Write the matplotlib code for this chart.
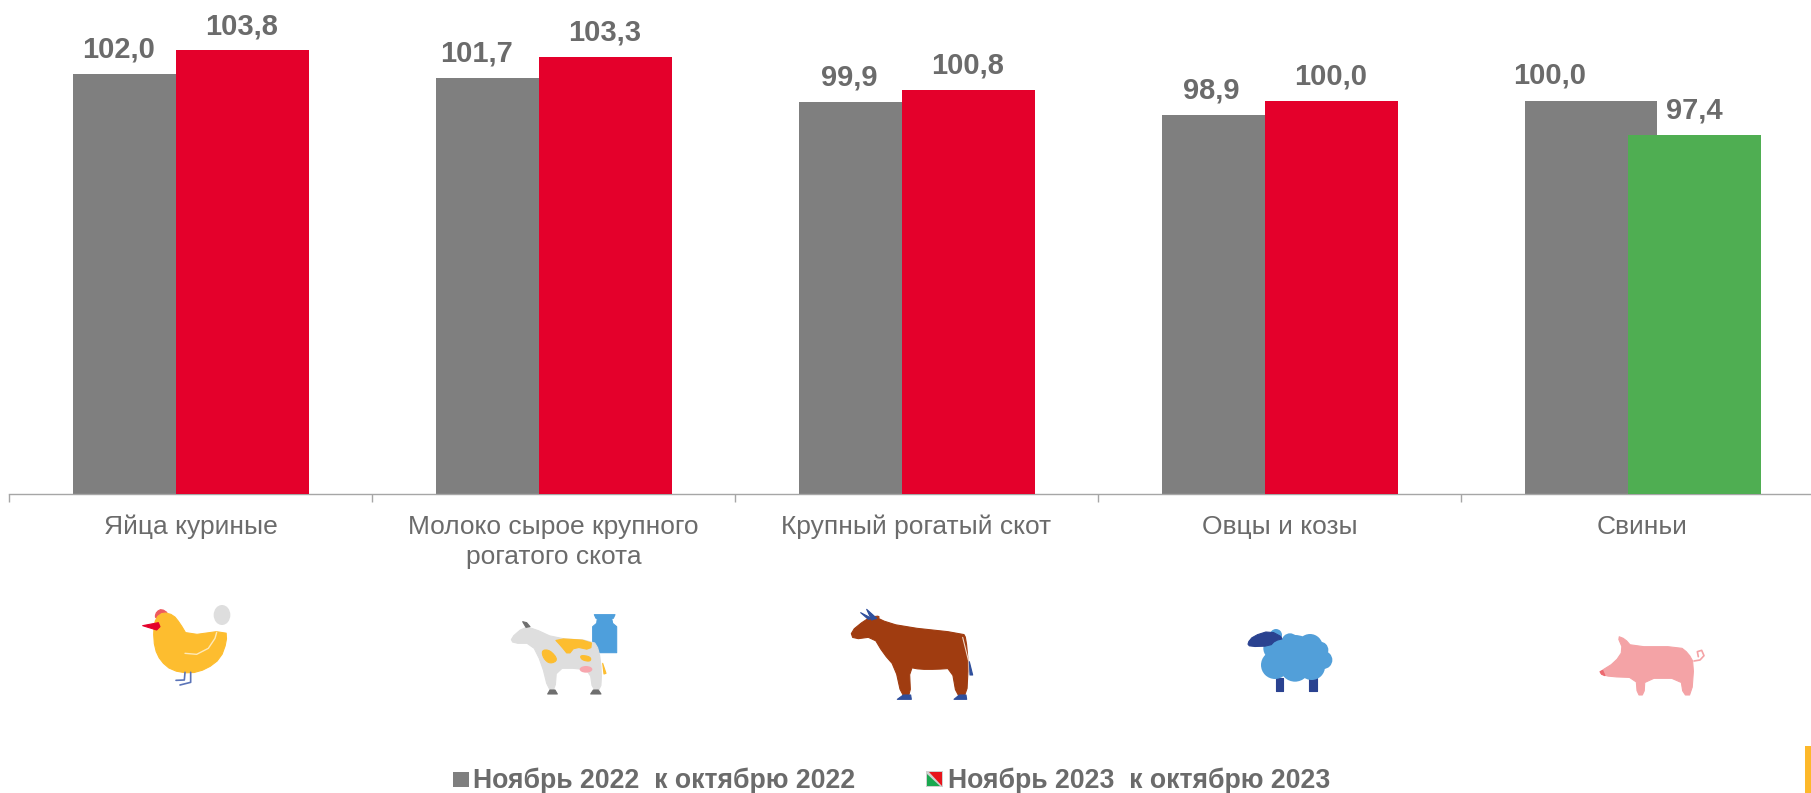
#!/usr/bin/env python3
import matplotlib
matplotlib.use('Agg')
import matplotlib.pyplot as plt
from matplotlib.patches import Polygon, Ellipse, Circle, Rectangle
import numpy as np

categories = ['Яйца куриные', 'Молоко сырое крупного\nрогатого скота', 'Крупный рогатый скот', 'Овцы и козы', 'Свиньи']
values_2022 = [102.0, 101.7, 99.9, 98.9, 100.0]
values_2023 = [103.8, 103.3, 100.8, 100.0, 97.4]
labels_2022 = ['102,0', '101,7', '99,9', '98,9', '100,0']
labels_2023 = ['103,8', '103,3', '100,8', '100,0', '97,4']
legend_2022 = 'Ноябрь 2022  к октябрю 2022'
legend_2023 = 'Ноябрь 2023  к октябрю 2023'

W, H = 1811, 793
GREY, RED, GREEN = '#7f7f7f', '#e4002b', '#4fae52'
TXT = '#6b6b6b'
plt.rcParams['font.family'] = ['Liberation Sans', 'DejaVu Sans']

fig = plt.figure(figsize=(W / 100, H / 100), dpi=100)
y0 = 494
ax = fig.add_axes([9 / W, 1 - y0 / H, (W - 9) / W, y0 / H])
per_cat = 363.0

x = np.arange(len(categories))
bw = 133 / per_cat
off = 51.5 / per_cat
ax.bar(x - off, values_2022, bw, color=GREY, zorder=2)
colors_2023 = [RED if v >= 100 else GREEN for v in values_2023]
ax.bar(x + off, values_2023, bw, color=colors_2023, zorder=3)

# value labels sit a bit left of the grey bars, pixels
shift_2022 = [-20, -25, -16, -17, -41]
shift_2023 = [0, 0, 0, 0, 0]
for i in x:
    ax.annotate(labels_2022[i], (i - off, values_2022[i]), xytext=(shift_2022[i] * 0.72, 12.2),
                textcoords='offset points', ha='center', va='baseline',
                fontsize=21, fontweight='bold', color=TXT)
    ax.annotate(labels_2023[i], (i + off, values_2023[i]), xytext=(shift_2023[i] * 0.72, 11.6),
                textcoords='offset points', ha='center', va='baseline',
                fontsize=21, fontweight='bold', color=TXT)

for s in ['top', 'left', 'right']:
    ax.spines[s].set_visible(False)
ax.spines['bottom'].set_color('#a6a6a6')
ax.spines['bottom'].set_linewidth(1.0)
ax.set_yticks([])
ax.set_xticks(np.arange(-0.5, 5, 1))
ax.set_xticklabels([])
ax.tick_params(axis='x', which='major', length=5.8, width=1.0, color='#a6a6a6')
ax.set_xticks(x, minor=True)
ax.set_xticklabels(categories, minor=True, fontsize=19, color=TXT, linespacing=1.3)
ax.tick_params(axis='x', which='minor', length=0, pad=15)
# set_xticks widens the view, so the limits go last
ax.set_xlim(-0.5, (W - 9) / per_cat - 0.5)
ax.set_ylim(70.2, 70.2 + y0 / 13.2)

# overlay in pixel coordinates for the icons and legend
ov = fig.add_axes([0, 0, 1, 1], zorder=5)
ov.set_xlim(0, W)
ov.set_ylim(H, 0)
ov.axis('off')


def chaikin(pts, n):
    pts = np.array(pts, float)
    for _ in range(n):
        nxt = np.roll(pts, -1, axis=0)
        pts = np.stack([0.75 * pts + 0.25 * nxt, 0.25 * pts + 0.75 * nxt], axis=1).reshape(-1, 2)
    return pts


def poly(ox, oy, pts, color, z=1, smooth=2):
    xy = chaikin(pts, smooth)
    xy = np.column_stack([ox + xy[:, 0] / 3, oy + xy[:, 1] / 3])
    ov.add_patch(Polygon(xy, closed=True, fc=color, ec=color, lw=0.8, joinstyle='round', zorder=z))


def line(ox, oy, pts, color, lw=1.2, z=2):
    ov.plot([ox + a / 3 for a, b in pts], [oy + b / 3 for a, b in pts], color=color, lw=lw,
            solid_capstyle='round', solid_joinstyle='round', zorder=z)


# chicken
ox, oy = 130, 595
poly(ox, oy, [(75, 65), (80, 50), (95, 42), (115, 55), (100, 60), (80, 70)], '#ee5a5f', smooth=1)
poly(ox, oy, [(100, 52), (130, 60), (150, 85), (172, 122), (288, 106), (290, 140), (272, 190), (230, 222),
              (180, 236), (125, 226), (92, 198), (74, 160), (70, 105), (78, 68)], '#fdbd2f', 2, smooth=1)
poly(ox, oy, [(38, 92), (85, 83), (90, 95), (80, 105)], '#e4002b', 3, smooth=0)
ov.add_patch(Ellipse((ox + 276 / 3, oy + 60 / 3), 50 / 3, 60 / 3, fc='#dedede', ec='none'))
line(ox, oy, [(165, 175), (200, 178), (235, 160), (255, 130), (260, 112)], '#fde9b8', 1.0, 3)
line(ox, oy, [(165, 232), (163, 255), (138, 256)], '#5b74b8')
line(ox, oy, [(182, 232), (182, 262), (150, 270)], '#5b74b8')

# cow with milk can
ox, oy = 500, 600
poly(ox, oy, [(290, 70), (278, 80), (278, 158), (350, 158), (350, 80), (338, 70), (335, 55), (292, 55)], '#4e9fdc', smooth=0)
poly(ox, oy, [(283, 44), (345, 44), (340, 55), (288, 55)], '#4e9fdc', smooth=0)
poly(ox, oy, [(32, 115), (70, 82), (100, 85), (165, 115), (280, 122), (297, 150), (305, 215), (302, 270),
              (278, 270), (270, 215), (235, 205), (170, 205), (165, 270), (145, 270), (125, 190),
              (95, 130), (40, 130)], '#dedede', 2, smooth=1)
poly(ox, oy, [(68, 65), (80, 68), (90, 80), (78, 82)], '#6e6e6e', 3, smooth=0)
poly(ox, oy, [(143, 282), (150, 270), (165, 270), (172, 282)], '#6e6e6e', 3, smooth=0)
poly(ox, oy, [(272, 282), (280, 270), (295, 270), (303, 282)], '#6e6e6e', 3, smooth=0)
poly(ox, oy, [(162, 115), (275, 122), (272, 150), (225, 140), (205, 165), (185, 140)], '#fdbd2f', 3, smooth=1)
poly(ox, oy, [(125, 150), (150, 150), (175, 180), (150, 192), (130, 175)], '#fdbd2f', 3)
poly(ox, oy, [(240, 165), (272, 170), (272, 185), (245, 180)], '#fdbd2f', 3)
poly(ox, oy, [(308, 190), (318, 220), (312, 222)], '#fdbd2f', 3, smooth=0)
ov.add_patch(Ellipse((ox + 258 / 3, oy + 208 / 3), 38 / 3, 20 / 3, fc='#f7a6ae', ec='none', zorder=3))

# bull
ox, oy = 840, 600
poly(ox, oy, [(32, 95), (75, 60), (100, 50), (118, 48), (115, 58), (185, 80), (370, 100), (378, 115), (385, 190),
              (380, 290), (350, 290), (335, 205), (290, 208), (240, 208), (208, 202), (212, 290), (185, 290),
              (165, 200), (130, 160), (100, 110), (40, 118)], '#a03c10', smooth=1)
poly(ox, oy, [(62, 38), (95, 55), (85, 58)], '#2f4f9c', 2, smooth=0)
poly(ox, oy, [(80, 28), (110, 55), (95, 60)], '#2f4f9c', 2, smooth=0)
poly(ox, oy, [(172, 298), (190, 285), (212, 285), (214, 298)], '#2f4f9c', 2, smooth=0)
poly(ox, oy, [(342, 298), (358, 285), (378, 285), (380, 298)], '#2f4f9c', 2, smooth=0)
poly(ox, oy, [(388, 185), (398, 225), (390, 225)], '#2f4f9c', 2, smooth=0)
line(ox, oy, [(368, 112), (385, 180)], '#f0d8c8', 0.8, 3)

# sheep
ox, oy = 1235, 620
for cx, cy, r in [(123, 45, 18), (165, 65, 25), (225, 80, 38), (255, 90, 25), (265, 120, 27), (120, 135, 42),
                  (180, 140, 45), (230, 140, 40), (120, 85, 35), (180, 110, 65)]:
    ov.add_patch(Circle((ox + cx / 3, oy + cy / 3), r / 3, fc='#529fd9', ec='none', zorder=2))
poly(ox, oy, [(123, 175), (145, 175), (145, 212), (123, 212)], '#2a4290', smooth=0)
poly(ox, oy, [(223, 175), (245, 175), (245, 212), (223, 212)], '#2a4290', smooth=0)
poly(ox, oy, [(37, 70), (55, 48), (105, 32), (148, 55), (120, 62), (105, 78), (45, 80)], '#2a4290', 3, smooth=1)

# pig
ox, oy = 1590, 625
poly(ox, oy, [(82, 33), (105, 42), (125, 65), (270, 65), (295, 85), (312, 115), (305, 210), (280, 210),
              (272, 160), (165, 160), (162, 210), (142, 210), (138, 158), (60, 155), (35, 148), (30, 140),
              (75, 112), (100, 75)], '#f4a3a6', smooth=1)
poly(ox, oy, [(30, 140), (38, 136), (45, 152), (35, 148)], '#ec6a70', 2, smooth=0)
line(ox, oy, [(312, 108), (330, 105), (342, 92), (335, 76), (322, 80), (325, 95)], '#f4a3a6', 1.2)

# legend
ov.add_patch(Rectangle((453, 772), 16, 15, fc=GREY, ec='none'))
ov.add_patch(Rectangle((926, 771), 17, 16, fc='#d0d0d0', ec='none'))
ov.add_patch(Polygon([(927, 774), (927, 786), (940, 786)], fc='#19a84f', ec='none', zorder=2))
ov.add_patch(Polygon([(929, 772), (942, 772), (942, 786)], fc='#e8141c', ec='none', zorder=2))
ov.text(473, 788, legend_2022, fontsize=19.2, fontweight='bold', color=TXT, va='baseline', ha='left')
ov.text(948, 788, legend_2023, fontsize=19.2, fontweight='bold', color=TXT, va='baseline', ha='left')

# yellow corner mark
ov.add_patch(Rectangle((1805, 746), 6, 47, fc='#fdb82a', ec='none'))

fig.savefig('out.png', dpi=100, facecolor='white')
